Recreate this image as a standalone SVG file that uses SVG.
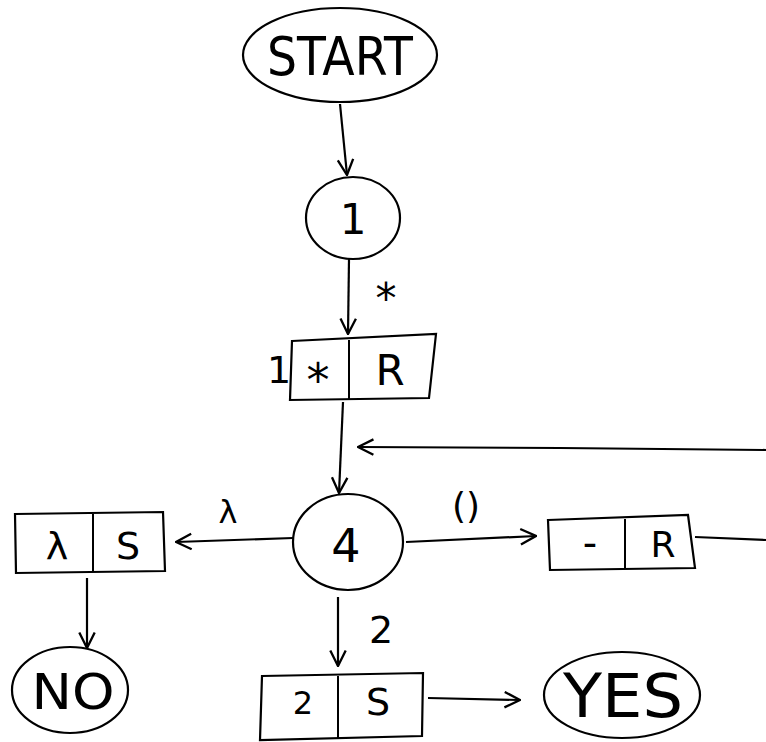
<svg xmlns="http://www.w3.org/2000/svg" width="766" height="742" viewBox="0 0 766 742">
  <defs>
    <marker id="arr" viewBox="0 0 14 14" refX="13" refY="7" markerWidth="18" markerHeight="18" markerUnits="userSpaceOnUse" orient="auto">
      <path d="M1,1 L13,7 L1,13" fill="none" stroke="#000" stroke-width="1.8"/>
    </marker>
    <style>
      .sh { fill: #fff; stroke: #000; stroke-width: 2.2; }
      .ln { fill: none; stroke: #000; stroke-width: 2.2; }
      .dv { fill: none; stroke: #000; stroke-width: 2; }
      .tx { font-family: "DejaVu Sans", "Liberation Sans", sans-serif; fill: #000; text-anchor: middle; dominant-baseline: central; }
    </style>
  </defs>
  <rect width="766" height="742" fill="#fff"/>

  <g id="connectors">
    <line class="ln" x1="340" y1="104" x2="347" y2="175" marker-end="url(#arr)"/>
    <line class="ln" x1="349" y1="259" x2="348" y2="334" marker-end="url(#arr)"/>
    <text class="tx" x="386" y="298" font-size="42">*</text>
    <line class="ln" x1="343" y1="402" x2="339" y2="493" marker-end="url(#arr)"/>
    <polyline class="ln" points="766,450 560,448 358,447" marker-end="url(#arr)"/>
    <line class="ln" x1="406" y1="542" x2="536" y2="536" marker-end="url(#arr)"/>
    <text class="tx" x="466" y="505" font-size="36">()</text>
    <line class="ln" x1="695" y1="537" x2="766" y2="540"/>
    <line class="ln" x1="293" y1="538" x2="176" y2="542" marker-end="url(#arr)"/>
    <text class="tx" x="228" y="512" font-size="32">λ</text>
    <line class="ln" x1="87" y1="578" x2="87" y2="648" marker-end="url(#arr)"/>
    <line class="ln" x1="338" y1="597" x2="338" y2="666" marker-end="url(#arr)"/>
    <text class="tx" x="381" y="630" font-size="38">2</text>
    <line class="ln" x1="428" y1="698" x2="520" y2="700" marker-end="url(#arr)"/>
  </g>

  <g id="start">
    <ellipse class="sh" cx="340" cy="55" rx="97" ry="47"/>
    <text class="tx" x="340" y="56" font-size="54" textLength="146" lengthAdjust="spacingAndGlyphs">START</text>
  </g>

  <g id="node1">
    <ellipse class="sh" cx="353" cy="218" rx="47" ry="41"/>
    <text class="tx" x="353" y="219" font-size="42">1</text>
  </g>

  <g id="box-1-star-R">
    <polygon class="sh" points="292,341 436,334 429,398 290,400"/>
    <line class="dv" x1="349" y1="340" x2="349" y2="399"/>
    <text class="tx" x="279" y="370" font-size="38">1</text>
    <text class="tx" x="318" y="380" font-size="46">*</text>
    <text class="tx" x="390" y="370" font-size="42">R</text>
  </g>

  <g id="node4">
    <ellipse class="sh" cx="348" cy="542" rx="55" ry="48"/>
    <text class="tx" x="346" y="546" font-size="46">4</text>
  </g>

  <g id="box-lambda-S">
    <polygon class="sh" points="15,514 163,512 165,571 16,573"/>
    <line class="dv" x1="93" y1="514" x2="93" y2="571"/>
    <text class="tx" x="57" y="546" font-size="38">λ</text>
    <text class="tx" x="128" y="546" font-size="38">S</text>
  </g>

  <g id="box-neg-R">
    <polygon class="sh" points="548,520 688,515 695,568 550,570"/>
    <line class="dv" x1="625" y1="519" x2="625" y2="568"/>
    <text class="tx" x="590" y="543" font-size="40">-</text>
    <text class="tx" x="663" y="544" font-size="36">R</text>
  </g>

  <g id="box-2-S">
    <polygon class="sh" points="262,676 423,673 422,736 260,740"/>
    <line class="dv" x1="338" y1="676" x2="338" y2="738"/>
    <text class="tx" x="303" y="703" font-size="32">2</text>
    <text class="tx" x="378" y="702" font-size="38">S</text>
  </g>

  <g id="no">
    <ellipse class="sh" cx="70" cy="690" rx="58" ry="43"/>
    <text class="tx" x="73" y="692" font-size="50" textLength="83" lengthAdjust="spacingAndGlyphs">NO</text>
  </g>

  <g id="yes">
    <ellipse class="sh" cx="622" cy="695" rx="78" ry="43"/>
    <text class="tx" x="623" y="696" font-size="60" textLength="120" lengthAdjust="spacingAndGlyphs">YES</text>
  </g>
</svg>
